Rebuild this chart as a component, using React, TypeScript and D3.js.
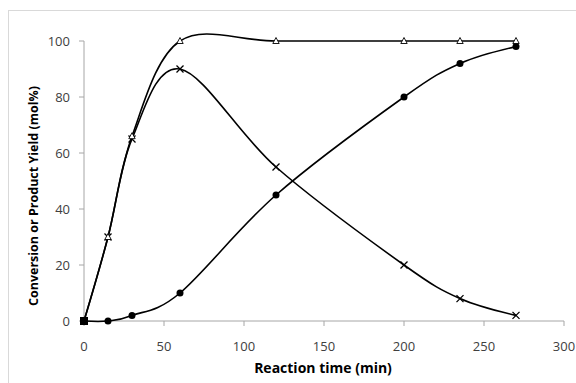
import * as d3 from "d3";
import React from "react";

// reaction time (min)
const times = [0, 15, 30, 60, 120, 200, 235, 270];
// conversion (triangles)
const conversion = [0, 30, 66, 100, 100, 100, 100, 100];
// intermediate product (crosses)
const intermediate = [0, 30, 65, 90, 55, 20, 8, 2];
// final product (circles)
const finalProduct = [0, 0, 2, 10, 45, 80, 92, 98];

const xTicks = [0, 50, 100, 150, 200, 250, 300];
const yTicks = [0, 20, 40, 60, 80, 100];

const width = 576;
const height = 383;
const margins = { left: 84, right: 12, top: 41, bottom: 62 };

const font = "'Open Sans', 'Noto Sans', sans-serif";

export default function App() {
    const x = d3.scaleLinear().domain([0, 300]).range([0, 480]);
    const y = d3.scaleLinear().domain([0, 100]).range([280, 0]);

    const line = d3.line<[number, number]>()
        .x(d => x(d[0]))
        .y(d => y(d[1]))
        .curve(d3.curveCardinal.tension(0));

    const toPts = (vals: number[]) => times.map((t, i) => [t, vals[i]] as [number, number]);

    const series = [conversion, intermediate, finalProduct];

    return (
        <svg width={width} height={height} style={{ position: "absolute", left: 0, top: 0, background: "#fff" }}>
            <rect x={8.5} y={10.5} width={580} height={400} fill="#fff" stroke="#d9d9d9" />
            <g transform={`translate(${margins.left}, ${margins.top})`}>
                {/* axes */}
                <line x1={0} x2={0} y1={0} y2={280} stroke="#a6a6a6" />
                <line x1={0} x2={480} y1={280} y2={280} stroke="#a6a6a6" />
                {yTicks.map(t => (
                    <g key={"y" + t}>
                        <line x1={-5} x2={0} y1={y(t)} y2={y(t)} stroke="#a6a6a6" />
                        <text x={-14} y={y(t)} dy="0.35em" textAnchor="end" fontFamily={font} fontSize={13} fill="#404040">{t}</text>
                    </g>
                ))}
                {xTicks.map(t => (
                    <g key={"x" + t}>
                        <line x1={x(t)} x2={x(t)} y1={280} y2={285} stroke="#a6a6a6" />
                        <text x={x(t)} y={305} dy="0.35em" textAnchor="middle" fontFamily={font} fontSize={13} fill="#404040">{t}</text>
                    </g>
                ))}
                {/* lines */}
                {series.map((s, i) => (
                    <path key={"l" + i} d={line(toPts(s)) || ""} fill="none" stroke="#000" strokeWidth={1.6} />
                ))}
                {/* markers */}
                {toPts(finalProduct).map((d, i) => (
                    <circle key={"c" + i} cx={x(d[0])} cy={y(d[1])} r={3.5} fill="#000" />
                ))}
                {toPts(intermediate).map((d, i) => (
                    <path key={"x" + i}
                        d={`M${x(d[0]) - 3.5},${y(d[1]) - 3.5}L${x(d[0]) + 3.5},${y(d[1]) + 3.5}M${x(d[0]) - 3.5},${y(d[1]) + 3.5}L${x(d[0]) + 3.5},${y(d[1]) - 3.5}`}
                        stroke="#000" strokeWidth={1.3} fill="none" />
                ))}
                {toPts(conversion).map((d, i) => (
                    <path key={"t" + i}
                        d={`M${x(d[0])},${y(d[1]) - 3.5}L${x(d[0]) + 3.2},${y(d[1]) + 2.5}L${x(d[0]) - 3.2},${y(d[1]) + 2.5}Z`}
                        stroke="#000" strokeWidth={0.9} fill="#fff" />
                ))}
                <rect x={x(0) - 4} y={y(0) - 4} width={8} height={8} fill="#000" />
            </g>
            <text x={323} y={373} textAnchor="middle" fontFamily={font} fontWeight="bold" fontSize={14} fill="#000">Reaction time (min)</text>
            <text transform={`translate(38, 196) rotate(-90)`} textAnchor="middle" fontFamily={font} fontWeight="bold" fontSize={12.5} fill="#000">Conversion or Product  Yield (mol%)</text>
        </svg>
    );
}
